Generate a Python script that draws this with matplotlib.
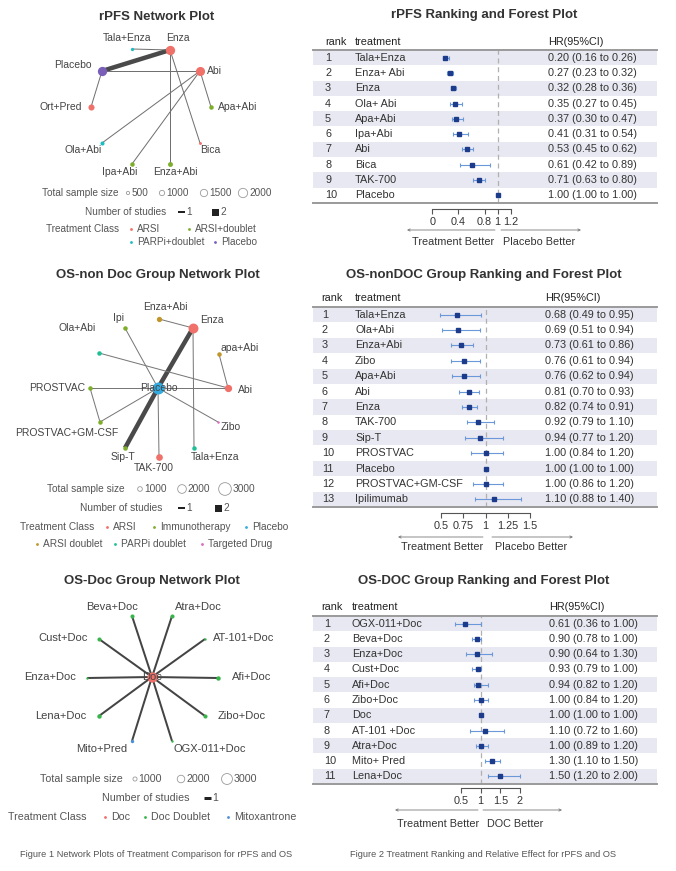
import numpy as np
import matplotlib
matplotlib.use("Agg")
import matplotlib.pyplot as plt

plt.rcParams['font.family'] = ['Liberation Sans', 'DejaVu Sans']

W, H = 676, 871

# ---------------- forest data ----------------
rpfs_treat = ["Tala+Enza", "Enza+ Abi", "Enza", "Ola+ Abi", "Apa+Abi", "Ipa+Abi",
              "Abi", "Bica", "TAK-700", "Placebo"]
rpfs_hr = [0.20, 0.27, 0.32, 0.35, 0.37, 0.41, 0.53, 0.61, 0.71, 1.00]
rpfs_lo = [0.16, 0.23, 0.28, 0.27, 0.30, 0.31, 0.45, 0.42, 0.63, 1.00]
rpfs_hi = [0.26, 0.32, 0.36, 0.45, 0.47, 0.54, 0.62, 0.89, 0.80, 1.00]

osn_treat = ["Tala+Enza", "Ola+Abi", "Enza+Abi", "Zibo", "Apa+Abi", "Abi", "Enza",
             "TAK-700", "Sip-T", "PROSTVAC", "Placebo", "PROSTVAC+GM-CSF", "Ipilimumab"]
osn_hr = [0.68, 0.69, 0.73, 0.76, 0.76, 0.81, 0.82, 0.92, 0.94, 1.00, 1.00, 1.00, 1.10]
osn_lo = [0.49, 0.51, 0.61, 0.61, 0.62, 0.70, 0.74, 0.79, 0.77, 0.84, 1.00, 0.86, 0.88]
osn_hi = [0.95, 0.94, 0.86, 0.94, 0.94, 0.93, 0.91, 1.10, 1.20, 1.20, 1.00, 1.20, 1.40]

osd_treat = ["OGX-011+Doc", "Beva+Doc", "Enza+Doc", "Cust+Doc", "Afi+Doc", "Zibo+Doc",
             "Doc", "AT-101 +Doc", "Atra+Doc", "Mito+ Pred", "Lena+Doc"]
osd_hr = [0.61, 0.90, 0.90, 0.93, 0.94, 1.00, 1.00, 1.10, 1.00, 1.30, 1.50]
osd_lo = [0.36, 0.78, 0.64, 0.79, 0.82, 0.84, 1.00, 0.72, 0.89, 1.10, 1.20]
osd_hi = [1.00, 1.00, 1.30, 1.00, 1.20, 1.20, 1.00, 1.60, 1.20, 1.50, 2.00]

# ---------------- network data ----------------
net1_nodes = ["Tala+Enza", "Enza", "Placebo", "Abi", "Ort+Pred", "Apa+Abi",
              "Ola+Abi", "Bica", "Ipa+Abi", "Enza+Abi"]
net1_class = ["PARPi+doublet", "ARSI", "Placebo", "ARSI", "ARSI", "ARSI+doublet",
              "PARPi+doublet", "ARSI", "ARSI+doublet", "ARSI+doublet"]
net1_size = [500, 2000, 2000, 1950, 1200, 800, 700, 400, 800, 900]
net1_edges = [("Placebo", "Enza", 2), ("Placebo", "Abi", 1), ("Tala+Enza", "Enza", 1),
              ("Enza", "Enza+Abi", 1), ("Enza", "Bica", 1), ("Abi", "Ola+Abi", 1),
              ("Abi", "Ipa+Abi", 1), ("Abi", "Apa+Abi", 1), ("Placebo", "Ort+Pred", 1)]

net2_nodes = ["Enza+Abi", "Ipi", "Enza", "Ola+Abi", "apa+Abi", "Placebo", "Abi",
              "PROSTVAC", "PROSTVAC+GM-CSF", "Zibo", "Sip-T", "TAK-700", "Tala+Enza"]
net2_class = ["ARSI doublet", "Immunotherapy", "ARSI", "PARPi doublet", "ARSI doublet",
              "Placebo", "ARSI", "Immunotherapy", "Immunotherapy", "Targeted Drug",
              "Immunotherapy", "ARSI", "PARPi doublet"]
net2_size = [1150, 950, 2300, 950, 950, 2800, 1650, 950, 950, 450, 950, 1500, 950]
net2_edges = [("Enza+Abi", "Enza", 1), ("Placebo", "Enza", 2), ("Placebo", "Sip-T", 2),
              ("Enza", "Tala+Enza", 1), ("Ipi", "Placebo", 1), ("Ola+Abi", "Abi", 1),
              ("apa+Abi", "Abi", 1), ("PROSTVAC", "Placebo", 1), ("Placebo", "Abi", 1),
              ("PROSTVAC", "PROSTVAC+GM-CSF", 1), ("PROSTVAC+GM-CSF", "Placebo", 1),
              ("Placebo", "Zibo", 1), ("Placebo", "TAK-700", 1)]

net3_nodes = ["Doc", "Beva+Doc", "Atra+Doc", "Cust+Doc", "AT-101+Doc", "Enza+Doc",
              "Afi+Doc", "Lena+Doc", "Zibo+Doc", "Mito+Pred", "OGX-011+Doc"]
net3_class = ["Doc", "Doc Doublet", "Doc Doublet", "Doc Doublet", "Doc Doublet",
              "Doc Doublet", "Doc Doublet", "Doc Doublet", "Doc Doublet",
              "Mitoxantrone", "Doc Doublet"]
net3_size = [2800, 1000, 1000, 1000, 500, 500, 1100, 1100, 1000, 800, 500]
net3_edges = [("Doc", n, 1) for n in net3_nodes[1:]]

# ---------------- layout (pixel coordinates) ----------------
net1_pos = {"Tala+Enza": (132, 49), "Enza": (170, 50), "Placebo": (102, 71), "Abi": (200, 71),
            "Ort+Pred": (91, 107), "Apa+Abi": (211, 107), "Ola+Abi": (102, 143),
            "Bica": (200, 143), "Ipa+Abi": (132, 164), "Enza+Abi": (170, 164)}
net1_lab = {"Tala+Enza": (127, 38), "Enza": (178, 38), "Placebo": (73, 65), "Abi": (214, 71),
            "Ort+Pred": (61, 107), "Apa+Abi": (238, 107), "Ola+Abi": (83, 150),
            "Bica": (210, 150), "Ipa+Abi": (120, 172), "Enza+Abi": (175, 172)}

net2_pos = {"Enza+Abi": (159, 319), "Ipi": (125, 328), "Enza": (193, 328), "Ola+Abi": (99, 353),
            "apa+Abi": (219, 354), "Placebo": (158, 388), "Abi": (228, 388),
            "PROSTVAC": (90, 388), "PROSTVAC+GM-CSF": (100, 422), "Zibo": (218, 422),
            "Sip-T": (125, 448), "TAK-700": (159, 457), "Tala+Enza": (194, 448)}
net2_lab = {"Enza+Abi": (165, 307), "Ipi": (118, 318), "Enza": (212, 320), "Ola+Abi": (77, 328),
            "apa+Abi": (240, 348), "Placebo": (159, 388), "Abi": (245, 390),
            "PROSTVAC": (57, 388), "PROSTVAC+GM-CSF": (67, 433), "Zibo": (231, 427),
            "Sip-T": (123, 457), "TAK-700": (154, 468), "Tala+Enza": (215, 457)}

net3_pos = {"Doc": (152, 677), "Beva+Doc": (132, 616), "Atra+Doc": (172, 616),
            "Cust+Doc": (99, 639), "AT-101+Doc": (205, 639), "Enza+Doc": (87, 678),
            "Afi+Doc": (218, 678), "Lena+Doc": (99, 716), "Zibo+Doc": (205, 716),
            "Mito+Pred": (132, 741), "OGX-011+Doc": (172, 741)}
net3_lab = {"Doc": (152, 677), "Beva+Doc": (112, 607), "Atra+Doc": (198, 607),
            "Cust+Doc": (63, 638), "AT-101+Doc": (244, 638), "Enza+Doc": (50, 677),
            "Afi+Doc": (252, 677), "Lena+Doc": (61, 716), "Zibo+Doc": (242, 716),
            "Mito+Pred": (102, 749), "OGX-011+Doc": (210, 749)}

col1 = {"ARSI": "#f0706a", "ARSI+doublet": "#7cae2a", "PARPi+doublet": "#1cbcc0",
        "Placebo": "#7a5fb8"}
col2 = {"ARSI": "#f0706a", "Immunotherapy": "#7cae2a", "Placebo": "#34abe0",
        "ARSI doublet": "#c0962c", "PARPi doublet": "#22bd98", "Targeted Drug": "#d86cc0"}
col3 = {"Doc": "#f0706a", "Doc Doublet": "#38b54a", "Mitoxantrone": "#4f8fd6"}

TXT = "#444444"
LEG = "#555555"

fig = plt.figure(figsize=(W / 100, H / 100), dpi=100)
bg = fig.add_axes([0, 0, 1, 1])
bg.set_xlim(0, W)
bg.set_ylim(H, 0)
bg.axis("off")


def pt(d_px):
    return d_px * 0.72


def draw_network(title, tx, ty, nodes, classes, sizes, edges, pos, lab, colors,
                 dscale, ewidth, ecolor, fs):
    bg.text(tx, ty, title, ha="center", va="center", fontsize=9.5,
            fontweight="bold", color="#333333")
    for a, b, n in edges:
        (x1, y1), (x2, y2) = pos[a], pos[b]
        bg.plot([x1, x2], [y1, y2], color=ecolor[n], lw=pt(ewidth[n]),
                solid_capstyle="butt", zorder=2)
    for name, c, s in zip(nodes, classes, sizes):
        x, y = pos[name]
        d = dscale[0] + dscale[1] * s
        bg.scatter([x], [y], s=pt(d) ** 2, color=colors[c], linewidths=0, zorder=3)
        lx, ly = lab[name]
        bg.text(lx, ly, name, ha="center", va="center", fontsize=fs, color=TXT, zorder=4)


def legend_sizes(y, lx, xs, vals, dscale, fs):
    bg.text(lx, y, "Total sample size", ha="left", va="center", fontsize=fs, color=LEG)
    for x, v in zip(xs, vals):
        d = dscale[0] + dscale[1] * v
        bg.scatter([x], [y], s=pt(d) ** 2, facecolor="none", edgecolor="#9a9a9a",
                   linewidths=0.6)
        bg.text(x + d / 2 + 1.5, y, str(v), ha="left", va="center", fontsize=fs, color=LEG)


def legend_studies(y, lx, items, fs):
    bg.text(lx, y, "Number of studies", ha="left", va="center", fontsize=fs, color=LEG)
    for x, n, w in items:
        if n == 1:
            bg.plot([x - 3.5, x + 3.5], [y, y], color="#222222", lw=pt(w),
                    solid_capstyle="butt")
        else:
            bg.scatter([x], [y], marker="s", s=pt(7) ** 2, color="#222222", linewidths=0)
        bg.text(x + 5, y, str(n), ha="left", va="center", fontsize=fs, color=LEG)


def legend_classes(y, lx, entries, colors, fs):
    bg.text(lx, y, "Treatment Class", ha="left", va="center", fontsize=fs, color=LEG)
    for yy, x, c in entries:
        bg.scatter([x], [yy], s=pt(2.8) ** 2, color=colors[c], linewidths=0)
        bg.text(x + 6, yy, c, ha="left", va="center", fontsize=fs, color=LEG)


# ---------------- network panels ----------------
draw_network("rPFS Network Plot", 157, 17, net1_nodes, net1_class, net1_size, net1_edges,
             net1_pos, net1_lab, col1, (1.3, 0.004), {1: 1.0, 2: 4.5},
             {1: "#707070", 2: "#4a4a4a"}, 7.5)
legend_sizes(193, 42, [128, 162, 204, 243], [500, 1000, 1500, 2000], (1.3, 0.004), 7.2)
legend_studies(212, 85, [(181, 1, 2.0), (215, 2, 0)], 7.2)
legend_classes(229, 46, [(229, 131, "ARSI"), (229, 189, "ARSI+doublet"),
                         (242, 131, "PARPi+doublet"), (242, 215, "Placebo")], col1, 7.2)

draw_network("OS-non Doc Group Network Plot", 158, 275, net2_nodes, net2_class, net2_size,
             net2_edges, net2_pos, net2_lab, col2, (0.7, 0.004), {1: 1.0, 2: 4.5},
             {1: "#777777", 2: "#4a4a4a"}, 7.5)
legend_sizes(489, 47, [140, 182, 225], [1000, 2000, 3000], (0.7, 0.004), 7.3)
legend_studies(508, 80, [(181, 1, 2.0), (218, 2, 0)], 7.3)
legend_classes(527, 20, [(527, 107, "ARSI"), (527, 154, "Immunotherapy"),
                         (527, 246, "Placebo"), (544, 37, "ARSI doublet"),
                         (544, 115, "PARPi doublet"), (544, 202, "Targeted Drug")], col2, 7.3)

draw_network("OS-Doc Group Network Plot", 152, 581, net3_nodes, net3_class, net3_size,
             net3_edges, net3_pos, net3_lab, col3, (0.7, 0.0034), {1: 2.0},
             {1: "#444444"}, 8.0)
legend_sizes(779, 40, [135, 181, 227], [1000, 2000, 3000], (0.7, 0.0034), 7.7)
legend_studies(798, 102, [(207, 1, 3.0)], 7.7)
legend_classes(817, 8, [(817, 105, "Doc"), (817, 145, "Doc Doublet"),
                        (817, 228, "Mitoxantrone")], col3, 7.7)

fig.text(156 / W, 1 - 854 / H, "Figure 1 Network Plots of Treatment Comparison for rPFS and OS",
         ha="center", va="center", fontsize=6.7, color="#555555")


# ---------------- forest panels ----------------
def ffx(px, py):
    return (px / W, 1 - py / H)


def draw_forest(title, title_y, header_y, treat, hr, lo, hi, top, bottom, zero_px, ppu,
                ticks, ticklabels, cols, axis_gap, arrow_y, larrow, rarrow, better_y,
                lcenter, rcenter, rtext):
    x0, x1 = 313, 657
    ax = fig.add_axes([x0 / W, 1 - bottom / H, (x1 - x0) / W, (bottom - top) / H])
    n = len(treat)
    ax.set_xlim((x0 - zero_px) / ppu, (x1 - zero_px) / ppu)
    ax.set_ylim(n, 0)
    ax.patch.set_alpha(0)
    for i in range(0, n, 2):
        ax.axhspan(i, i + 1, color="#e7e8f1", lw=0, zorder=0)
    ax.axvline(1, color="#b0b0b0", ls=(0, (4, 3)), lw=0.9, zorder=1)
    ax.axhline(0, color="#9a9a9a", lw=1.4, zorder=2, clip_on=False)
    ax.axhline(n, color="#9a9a9a", lw=1.4, zorder=2, clip_on=False)
    hr_a, lo_a, hi_a = np.array(hr), np.array(lo), np.array(hi)
    yy = np.arange(n) + 0.5
    ax.errorbar(hr_a, yy, xerr=[hr_a - lo_a, hi_a - hr_a], fmt="s", ms=pt(4),
                mfc="#1d3b8b", mec="#1d3b8b", ecolor="#6a98d8", elinewidth=0.8,
                capsize=pt(2), capthick=0.8, zorder=3)
    trans = ax.get_yaxis_transform()
    fx = lambda px: (px - x0) / (x1 - x0)
    for i in range(n):
        ax.text(fx(cols[0]), yy[i], str(i + 1), transform=trans, ha="left", va="center",
                fontsize=7.8, color="#333333")
        ax.text(fx(cols[1]), yy[i], treat[i], transform=trans, ha="left", va="center",
                fontsize=7.8, color="#333333")
        ax.text(fx(cols[2]), yy[i], f"{hr[i]:.2f} ({lo[i]:.2f} to {hi[i]:.2f})",
                transform=trans, ha="left", va="center", fontsize=7.8, color="#333333")
    for s in ("left", "right", "top"):
        ax.spines[s].set_visible(False)
    ax.spines["bottom"].set_position(("outward", pt(axis_gap)))
    ax.spines["bottom"].set_bounds(ticks[0], ticks[-1])
    ax.spines["bottom"].set_color("#555555")
    ax.spines["bottom"].set_linewidth(0.8)
    ax.set_yticks([])
    ax.set_xticks(ticks)
    ax.set_xticklabels(ticklabels)
    ax.tick_params(axis="x", direction="out", length=pt(4.5), width=0.8, color="#555555",
                   pad=2.5, labelsize=7.8, labelcolor="#333333")

    fig.text(484 / W, 1 - title_y / H, title, ha="center", va="center", fontsize=9.5,
             fontweight="bold", color="#333333")
    fig.text(cols[3] / W, 1 - header_y / H, "rank", ha="left", va="center", fontsize=7.8,
             color="#222222")
    fig.text(cols[1] / W, 1 - header_y / H, "treatment", ha="left", va="center",
             fontsize=7.8, color="#222222")
    fig.text(cols[2] / W, 1 - header_y / H, "HR(95%CI)", ha="left", va="center",
             fontsize=7.8, color="#222222")
    for a, b in (larrow, rarrow):
        ax.annotate("", xy=ffx(a, arrow_y), xytext=ffx(b, arrow_y),
                    xycoords="figure fraction", textcoords="figure fraction",
                    arrowprops=dict(arrowstyle="->", color="#777777", lw=0.6,
                                    mutation_scale=4, shrinkA=0, shrinkB=0),
                    annotation_clip=False)
    fig.text(lcenter / W, 1 - better_y / H, "Treatment Better", ha="center", va="center",
             fontsize=7.8, color="#333333")
    fig.text(rcenter / W, 1 - better_y / H, rtext, ha="center", va="center",
             fontsize=7.8, color="#333333")
    return ax


draw_forest("rPFS Ranking and Forest Plot", 15, 42, rpfs_treat, rpfs_hr, rpfs_lo, rpfs_hi,
            50, 203, 432.3, 65.3, [0, 0.4, 0.8, 1, 1.2], ["0", "0.4", "0.8", "1", "1.2"],
            (325, 355, 548, 325), 6.3, 230, (407, 495), (581, 501), 242, 453, 539,
            "Placebo Better")

draw_forest("OS-nonDOC Group Ranking and Forest Plot", 275, 298, osn_treat, osn_hr, osn_lo,
            osn_hi, 307, 507, 396.5, 89.0, [0.5, 0.75, 1, 1.25, 1.5],
            ["0.5", "0.75", "1", "1.25", "1.5"], (322, 355, 545, 321), 6.3, 537,
            (398, 483), (573, 492), 547, 442, 531, "Placebo Better")

draw_forest("OS-DOC Group Ranking and Forest Plot", 581, 607, osd_treat, osd_hr, osd_lo,
            osd_hi, 616, 784, 441.3, 39.33, [0.5, 1, 1.5, 2], ["0.5", "1", "1.5", "2"],
            (324, 352, 549, 321), 3.6, 810, (395, 478), (562, 483), 824, 438, 515,
            "DOC Better")

fig.text(483 / W, 1 - 854 / H, "Figure 2 Treatment Ranking and Relative Effect for rPFS and OS",
         ha="center", va="center", fontsize=6.7, color="#555555")

fig.savefig("out.png", dpi=100, facecolor="white")
